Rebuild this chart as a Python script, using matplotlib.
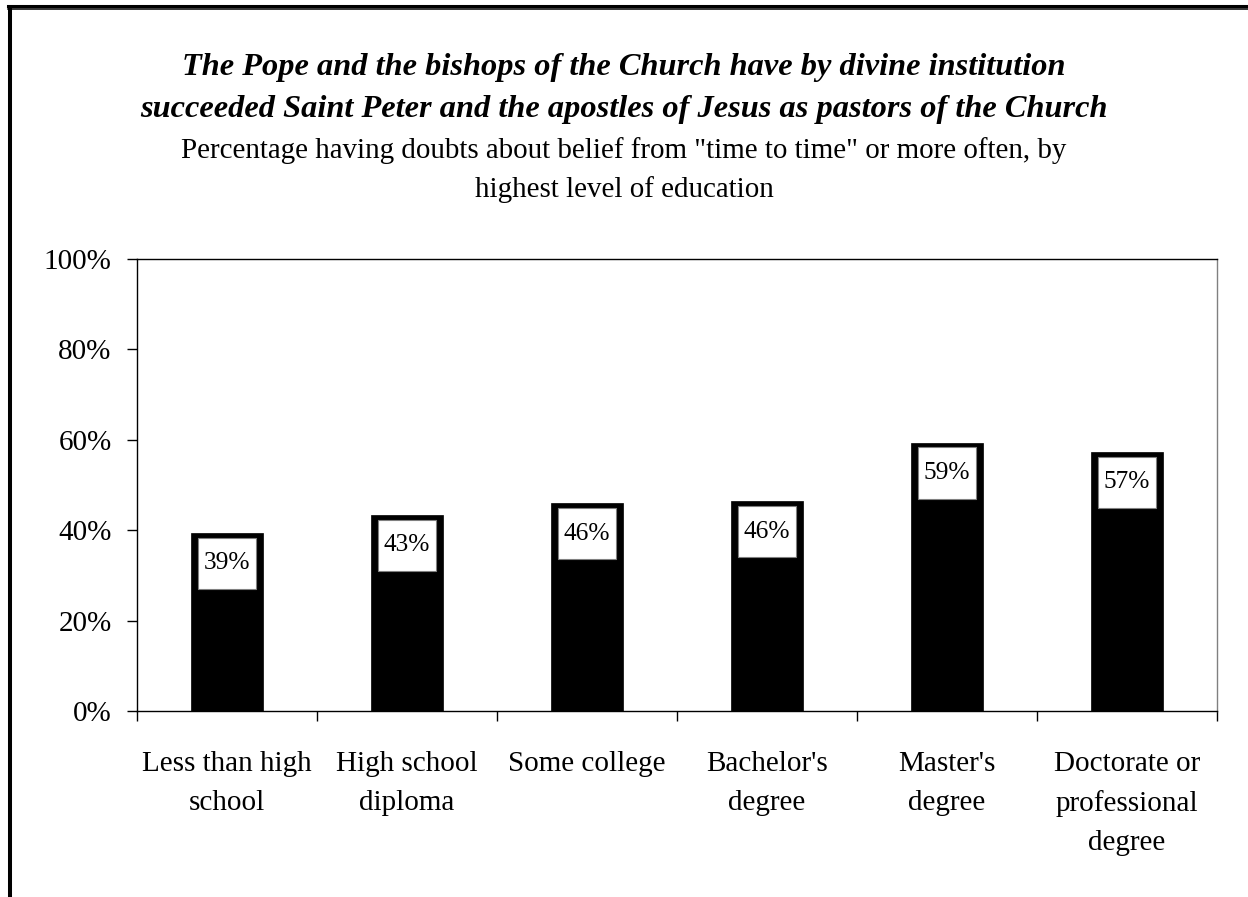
import matplotlib
matplotlib.use("Agg")
import matplotlib.pyplot as plt
from matplotlib.lines import Line2D
import numpy as np

categories = ["Less than high\nschool", "High school\ndiploma", "Some college",
              "Bachelor's\ndegree", "Master's\ndegree", "Doctorate or\nprofessional\ndegree"]
values = [39.4, 43.4, 46.0, 46.4, 59.4, 57.4]
yticks = [0, 20, 40, 60, 80, 100]
ytick_labels = ["0%", "20%", "40%", "60%", "80%", "100%"]
title_lines = ["The Pope and the bishops of the Church have by divine institution",
               "succeeded Saint Peter and the apostles of Jesus as pastors of the Church"]
subtitle_lines = ['Percentage having doubts about belief from "time to time" or more often, by',
                  "highest level of education"]

W, H = 1248, 897
plt.rcParams['font.family'] = ['Liberation Serif', 'DejaVu Serif']
fig = plt.figure(figsize=(W / 100, H / 100), dpi=100)
fig.patch.set_facecolor('white')

def fy(py):
    return 1 - py / H

def fx(px):
    return px / W

ax = fig.add_axes([fx(137), fy(711), fx(1217) - fx(137), (711 - 259) / H])
x = np.arange(len(categories))
ax.bar(x, values, width=0.405, color='black', edgecolor='black', linewidth=0.5, zorder=2)

# label boxes inside bar tops
gap = 1.1
box_h = 11.3
box_bottom = [v - gap - box_h for v in values]
ax.bar(x, [box_h] * len(values), bottom=box_bottom, width=0.317, color='white',
       edgecolor='#808080', linewidth=0.8, zorder=3)
for xi, v in zip(x, values):
    ax.text(xi, v - gap - box_h / 2, f"{round(v)}%", ha='center', va='center',
            fontsize=18.3, color='black', zorder=4)

ax.set_xlim(-0.5, len(categories) - 0.5)
ax.set_ylim(0, 100)
ax.set_yticks(yticks)
ax.set_yticklabels(ytick_labels)
ax.set_xticks(x)
ax.set_xticklabels(categories, linespacing=1.62, ha='center', multialignment='center')
ax.set_xticks(np.arange(-0.5, len(categories), 1.0), minor=True)
ax.tick_params(axis='x', which='major', length=0, pad=29, labelsize=21)
ax.tick_params(axis='x', which='minor', length=7.2, width=1, direction='out', color='black')
ax.tick_params(axis='y', which='major', length=7.2, width=1, direction='out', pad=11, labelsize=21)
for s in ['left', 'bottom', 'top']:
    ax.spines[s].set_color('black')
    ax.spines[s].set_linewidth(1)
ax.spines['right'].set_color('#808080')
ax.spines['right'].set_linewidth(1)

# titles
fig.text(0.5, fy(75), title_lines[0], ha='center', va='baseline', fontsize=23.3,
         fontweight='bold', fontstyle='italic')
fig.text(0.5, fy(117), title_lines[1], ha='center', va='baseline', fontsize=23.3,
         fontweight='bold', fontstyle='italic')
fig.text(0.5, fy(158), subtitle_lines[0], ha='center', va='baseline', fontsize=20.9)
fig.text(0.5, fy(197), subtitle_lines[1], ha='center', va='baseline', fontsize=20.9)

# frame border
fig.add_artist(Line2D([fx(8), 1], [fy(6.2), fy(6.2)], color='black', lw=2.2, transform=fig.transFigure))
fig.add_artist(Line2D([fx(8), 1], [fy(9.5), fy(9.5)], color='black', lw=1.1, transform=fig.transFigure))
fig.add_artist(Line2D([fx(10.3), fx(10.3)], [fy(8), 0], color='black', lw=2.9, transform=fig.transFigure))

fig.savefig("out.png", dpi=100, facecolor='white')
